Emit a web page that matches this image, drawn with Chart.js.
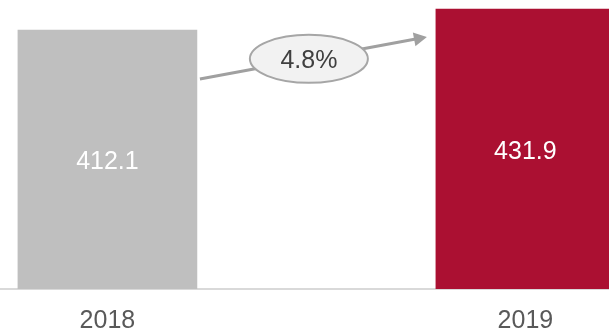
<!DOCTYPE html>
<html>
<head>
<meta charset="utf-8">
<script src="https://cdn.jsdelivr.net/npm/chart.js@4.4.1/dist/chart.umd.min.js"></script>
<style>
  html, body { margin: 0; padding: 0; background: #fff; }
  #wrap { width: 609px; height: 333px; position: relative; }
</style>
</head>
<body>
<div id="wrap"><canvas id="revChart"></canvas></div>
<script>
var years = [2018, 2019];
var values = [412.1, 431.9];
var barColors = ['#bfbfbf', '#ab1032'];

var FONT = '"Liberation Sans", Arial, sans-serif';

// labels inside bars + growth arrow with ellipse
var annotations = {
    id: 'annotations',
    afterDatasetsDraw: function (chart) {
        var ctx = chart.ctx;
        var bars = chart.getDatasetMeta(0).data;
        var bottom = chart.chartArea.bottom;
        ctx.save();
        ctx.font = '25px ' + FONT;
        ctx.fillStyle = '#ffffff';
        ctx.textAlign = 'center';
        ctx.textBaseline = 'middle';
        bars.forEach(function (bar, i) {
            var mid = (bar.y + bottom) / 2;
            ctx.fillText(values[i].toFixed(1), bar.x, mid + 3);
        });

        var b0 = bars[0], b1 = bars[1];
        var x0 = b0.x + b0.width / 2 + 3, y0 = b0.y + 49;
        var x1 = b1.x - b1.width / 2 - 9, y1 = b1.y + 28;
        var ang = Math.atan2(y1 - y0, x1 - x0);

        ctx.strokeStyle = '#a0a0a0';
        ctx.fillStyle = '#a0a0a0';
        ctx.lineWidth = 3;
        ctx.beginPath();
        ctx.moveTo(x0, y0);
        ctx.lineTo(x1 - 10 * Math.cos(ang), y1 - 10 * Math.sin(ang));
        ctx.stroke();
        // arrow head
        ctx.beginPath();
        ctx.moveTo(x1, y1);
        ctx.lineTo(x1 - 13 * Math.cos(ang) + 7 * Math.sin(ang), y1 - 13 * Math.sin(ang) - 7 * Math.cos(ang));
        ctx.lineTo(x1 - 13 * Math.cos(ang) - 7 * Math.sin(ang), y1 - 13 * Math.sin(ang) + 7 * Math.cos(ang));
        ctx.closePath();
        ctx.fill();

        // ellipse with growth %
        var t = 0.48;
        var cx = x0 + (x1 - x0) * t, cy = y0 + (y1 - y0) * t;
        ctx.beginPath();
        ctx.ellipse(cx, cy, 59, 24, 0, 0, Math.PI * 2);
        ctx.fillStyle = '#f2f2f2';
        ctx.fill();
        ctx.lineWidth = 2;
        ctx.strokeStyle = '#a6a6a6';
        ctx.stroke();

        var growth = (values[1] / values[0] - 1) * 100;
        ctx.fillStyle = '#404040';
        ctx.font = '25px ' + FONT;
        ctx.fillText(growth.toFixed(1) + '%', cx, cy + 2);
        ctx.restore();
    }
};

var ctx = document.getElementById('revChart');
var chart = new Chart(ctx, {
    type: 'bar',
    data: {
        datasets: [{
            data: years.map(function (y, i) { return { x: y, y: values[i] }; }),
            backgroundColor: barColors,
            borderWidth: 0,
            barThickness: 179
        }]
    },
    options: {
        responsive: true,
        maintainAspectRatio: false,
        animation: false,
        layout: { padding: 0 },
        plugins: {
            legend: { display: false },
            tooltip: { enabled: false }
        },
        scales: {
            x: {
                type: 'linear',
                offset: false,
                min: 2017.743,
                max: 2019.2,
                afterBuildTicks: function (axis) {
                    axis.ticks = years.map(function (y) { return { value: y }; });
                },
                afterFit: function (axis) {
                    axis.height = 44;
                },
                grid: { display: false, drawTicks: false, offset: false },
                border: { display: true, color: '#d9d9d9', width: 2 },
                ticks: {
                    padding: 20,
                    color: '#595959',
                    font: { family: FONT, size: 25, lineHeight: 1 },
                    maxRotation: 0,
                    autoSkip: false,
                    callback: function (v) { return String(v); }
                }
            },
            y: {
                display: false,
                min: 168,
                max: 440.4
            }
        }
    },
    plugins: [annotations]
});
</script>
</body>
</html>
